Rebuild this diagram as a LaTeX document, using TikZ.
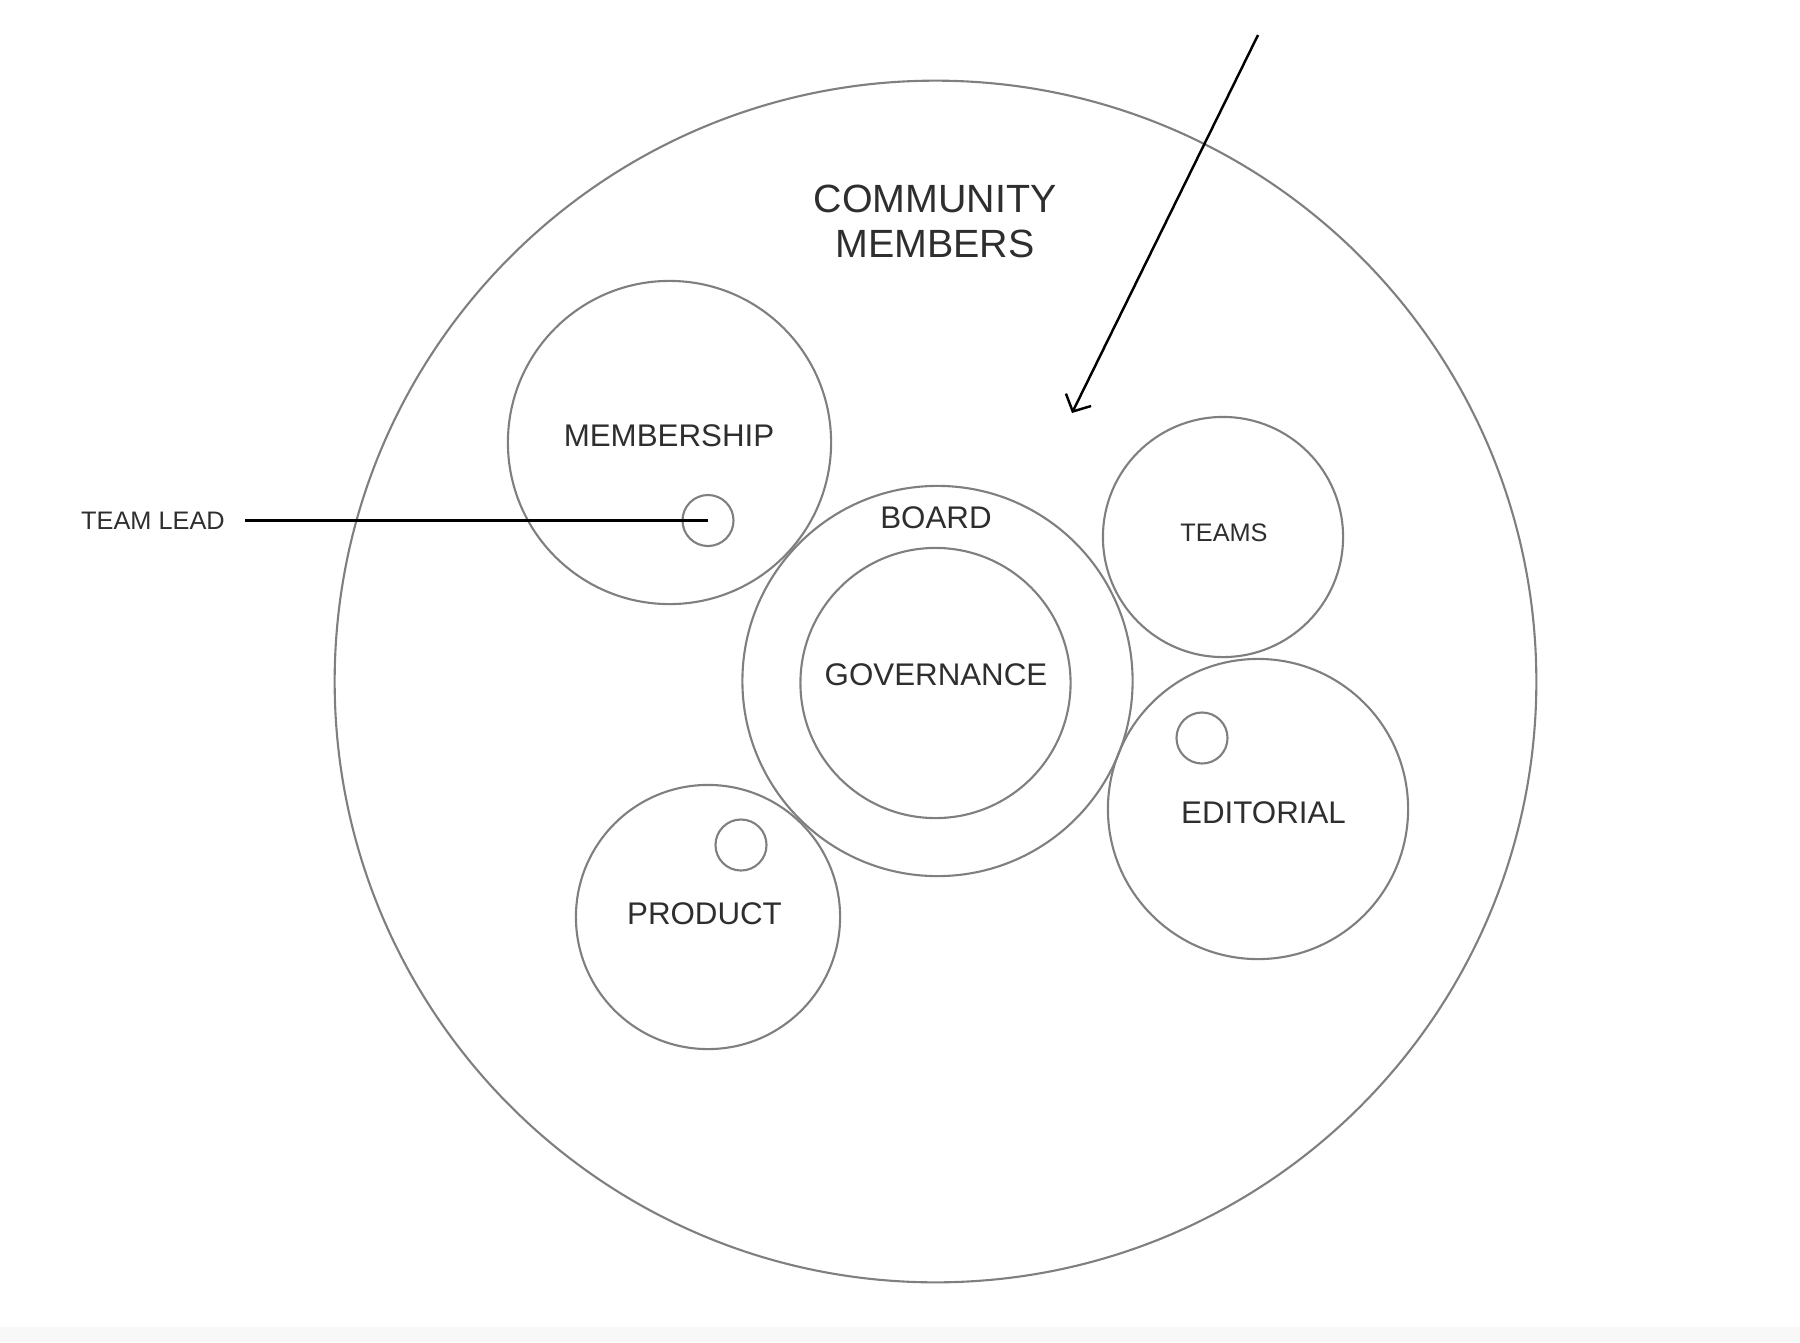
\documentclass[tikz,border=0pt]{standalone}
\usepackage{fontspec}
\setmainfont{Liberation Sans}
\usepackage{tikz}
\usetikzlibrary{arrows.meta}
\definecolor{ringgray}{HTML}{7F7F7F}
\definecolor{inkgray}{HTML}{2E2E2E}
\definecolor{bandgray}{HTML}{F8F8F8}
\tikzset{
  ring/.style={circle, draw=ringgray, line width=0.6pt, inner sep=0pt, outer sep=0pt},
  dot/.style={ring, minimum size=0.51cm},
  tag/.style={text=inkgray, inner sep=0pt, align=center},
  pointer/.style={-{Straight Barb[length=1.3mm, width=2.8mm]}, line width=0.7pt},
}

\begin{document}
\begin{tikzpicture}[x=0.01cm, y=-0.01cm]
  \tikzset{
    bigfont/.style={font=\fontsize{11.2}{12.8}\selectfont},
    midfont/.style={font=\fontsize{8.9}{10.5}\selectfont},
    smallfont/.style={font=\fontsize{7.2}{8.5}\selectfont},
  }
  \useasboundingbox (0,0) rectangle (1800,1342);
  \fill[bandgray] (0,1327) rectangle (1800,1342);

  % Community
  \node[ring, minimum size=12.01cm] (community) at (935.5,681.5) {};
  \node[tag, bigfont] (communitytxt) at (935,221) {COMMUNITY\\MEMBERS};

  % Board and governance
  \node[ring, minimum size=3.9cm] (board) at (937.5,681) {};
  \node[ring, minimum size=2.7cm] (governance) at (935.5,683) {};
  \node[tag, midfont] (boardtxt) at (936,518) {BOARD};
  \node[tag, midfont] (governancetxt) at (936,675) {GOVERNANCE};

  % Membership
  \node[ring, minimum size=3.23cm] (membership) at (669.5,442.5) {};
  \node[tag, midfont] (membershiptxt) at (669,435.5) {MEMBERSHIP};
  \node[dot] (lead1) at (708,520.5) {};

  % Teams
  \node[ring, minimum size=2.4cm] (teams) at (1223,537) {};
  \node[tag, smallfont] (teamstxt) at (1224,533) {TEAMS};

  % Editorial
  \node[ring, minimum size=3.0cm] (editorial) at (1258,809) {};
  \node[tag, midfont] (editorialtxt) at (1263.5,812.5) {EDITORIAL};
  \node[dot] (lead2) at (1202,738) {};

  % Product
  \node[ring, minimum size=2.64cm] (product) at (708,917) {};
  \node[tag, midfont] (producttxt) at (704.5,913.5) {PRODUCT};
  \node[dot] (lead3) at (741,845) {};

  % Team lead
  \node[tag, smallfont] (teamlead) at (153,520.5) {TEAM LEAD};
  \draw[line width=0.6pt, shorten <=0.2cm] (teamlead.east) -- (lead1.center);

  % Arrow
  \coordinate (arrowstart) at (1258,35);
  \coordinate (arrowtip) at (1072,413);
  \draw[pointer] (arrowstart) -- (arrowtip);

\end{tikzpicture}
\end{document}
